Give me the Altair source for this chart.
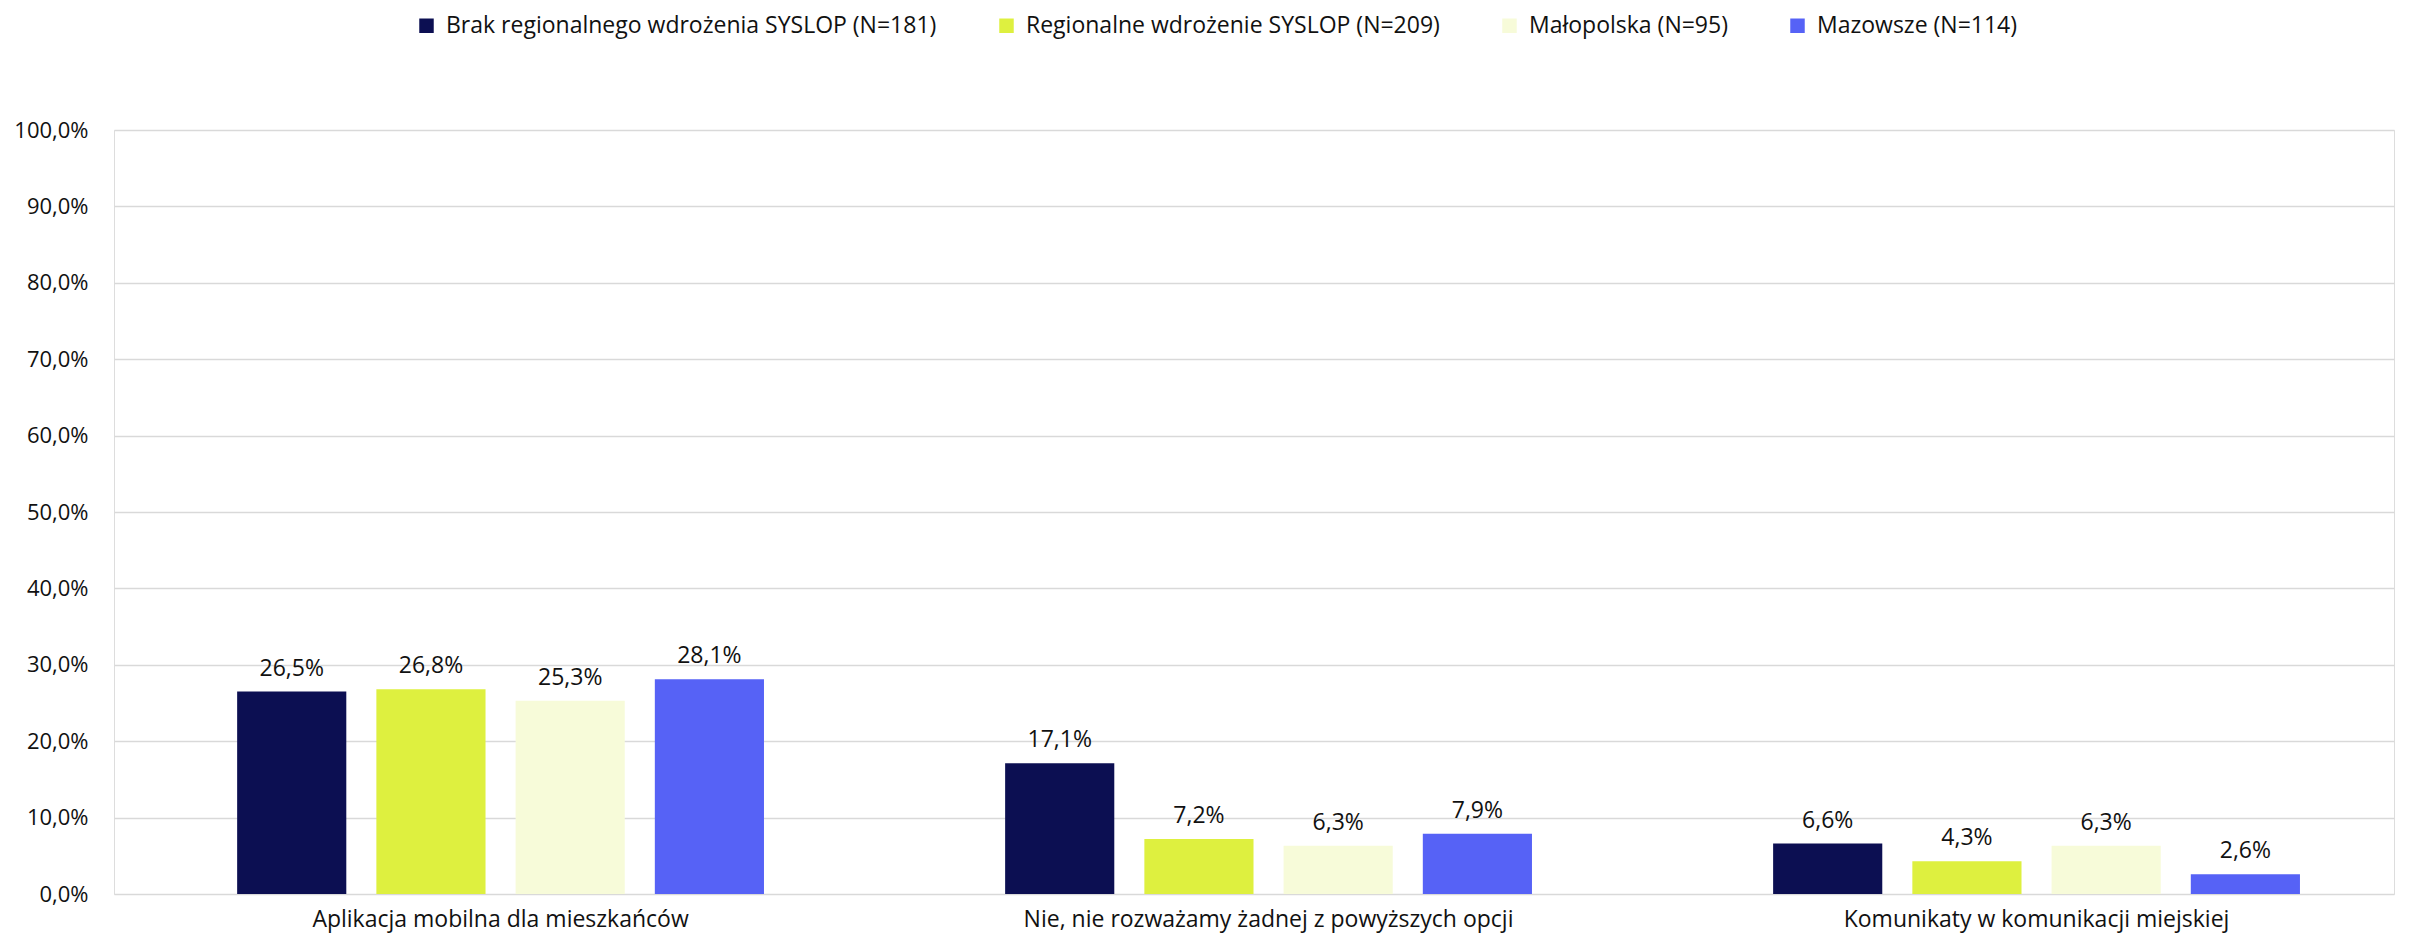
import altair as alt
import pandas as pd

categories = [
    "Aplikacja mobilna dla mieszkańców",
    "Nie, nie rozważamy żadnej z powyższych opcji",
    "Komunikaty w komunikacji miejskiej",
]
series = [
    "Brak regionalnego wdrożenia SYSLOP (N=181)",
    "Regionalne wdrożenie SYSLOP (N=209)",
    "Małopolska (N=95)",
    "Mazowsze (N=114)",
]
colors = ["#0C0F52", "#DEF03F", "#F7FBD9", "#5662F6"]
values = {
    series[0]: [26.5, 17.1, 6.6],
    series[1]: [26.8, 7.2, 4.3],
    series[2]: [25.3, 6.3, 6.3],
    series[3]: [28.1, 7.9, 2.6],
}

rows = []
for s in series:
    for c, v in zip(categories, values[s]):
        rows.append({"kategoria": c, "seria": s, "wartosc": v / 100.0})
df = pd.DataFrame(rows)

FONT = "Open Sans"

base = alt.Chart(df).encode(
    x=alt.X(
        "kategoria:N",
        sort=categories,
        title=None,
        scale=alt.Scale(paddingInner=0.314, paddingOuter=0.1414, align=0.567),
        axis=alt.Axis(
            labelAngle=0,
            domain=False,
            ticks=False,
            labelFontSize=23,
            labelFont=FONT,
            labelColor="#111111",
            labelPadding=14,
            labelLimit=800,
        ),
    ),
    xOffset=alt.XOffset(
        "seria:N", sort=series, scale=alt.Scale(paddingInner=0.216, paddingOuter=0)
    ),
    y=alt.Y(
        "wartosc:Q",
        title=None,
        scale=alt.Scale(domain=[0, 1]),
        axis=alt.Axis(
            values=[i / 10 for i in range(11)],
            labelExpr="replace(format(datum.value, '.1%'), '.', ',')",
            domain=False,
            ticks=False,
            grid=True,
            gridColor="#D9D9D9",
            gridWidth=1.5,
            labelFontSize=22,
            labelFont=FONT,
            labelColor="#111111",
            labelPadding=26,
        ),
    ),
)

bars = base.mark_bar().encode(
    color=alt.Color(
        "seria:N",
        sort=series,
        scale=alt.Scale(domain=series, range=colors),
        legend=alt.Legend(
            title=None,
            orient="none",
            direction="horizontal",
            legendX=301,
            legendY=-116,
            symbolType="square",
            symbolSize=210,
            symbolStrokeWidth=0,
            labelFontSize=23,
            labelFont=FONT,
            labelColor="#111111",
            labelOffset=8,
            columnPadding=58,
            labelLimit=800,
        ),
    )
)

labels = base.mark_text(
    fontSize=23, font=FONT, color="#111111", baseline="alphabetic", dy=-16
).transform_calculate(
    etykieta="replace(format(datum.wartosc, '.1%'), '.', ',')"
).encode(text="etykieta:N")

chart = (
    alt.layer(bars, labels)
    .properties(
        width=2280,
        height=764,
        padding={"left": 5, "top": 6, "right": 5, "bottom": 8},
    )
    .configure_view(stroke=None)
    .configure(background="white")
)

chart.save("out.html", embed_options={"renderer": "svg", "actions": False})
